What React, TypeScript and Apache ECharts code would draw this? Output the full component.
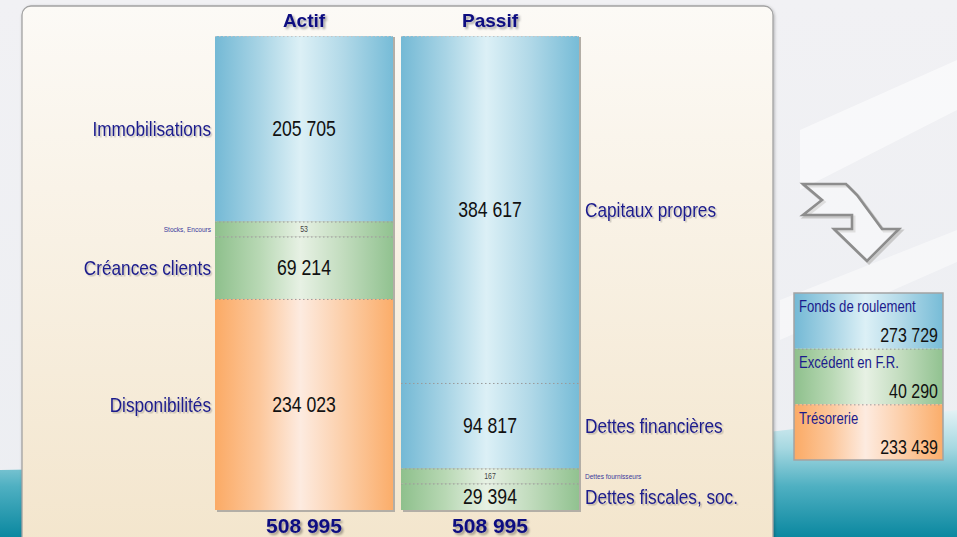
import React, { useEffect, useRef } from "react";
import * as echarts from "echarts";

// ---------- DATA ----------
const barCategories = ["Actif", "Passif"];
const actifNames = ["Immobilisations", "Stocks, Encours", "Créances clients", "Disponibilités"];
const actifValues = [205705, 53, 69214, 234023];
const passifNames = ["Capitaux propres", "Dettes financières", "Dettes fournisseurs", "Dettes fiscales, soc."];
const passifValues = [384617, 94817, 167, 29394];
const summaryNames = ["Fonds de roulement", "Excédent en F.R.", "Trésorerie"];
const summaryValues = [273729, 40290, 233439];

// ---------- STYLE ----------
const actifTones = ["blue", "green", "green", "orange"];
const passifTones = ["blue", "blue", "green", "green"];
const summaryTones = ["blue", "green", "orange"];
const MIN_SHARE = 0.0316; // minimum visual share given to tiny segments
const BAR_W = 178;
const NARROW_SCALE = 0.82;
const ARIAL = "'Liberation Sans', Arial, Helvetica, sans-serif";
const NAVY = "#1b1b8c";

const TONES: Record<string, string[]> = {
  blue: ["#74b9d5", "#a8d4e5", "#dcf0f6", "#b2d9e8", "#77bcd7"],
  green: ["#8ec08c", "#b8d8b4", "#e7f1e4", "#c2dcbe", "#91c290"],
  orange: ["#fbaa65", "#fcc79b", "#fdebe0", "#fccfaa", "#fbad6a"],
};
const grad = (tone: string) => ({
  type: "linear",
  x: 0,
  y: 0,
  x2: 1,
  y2: 0,
  colorStops: TONES[tone].map((c, i) => ({ offset: [0, 0.25, 0.48, 0.72, 1][i], color: c })),
});

const fmt = (v: number) => String(v).replace(/\B(?=(\d{3})+(?!\d))/g, " ");
const sum = (a: number[]) => a.reduce((s, v) => s + v, 0);

// narrow text (Arial Narrow look) built from Arial metrics
const narrowText = (text: string, x: number, y: number, align: string, fontSize: number, fill: string, shadow = false) => ({
  type: "text",
  x,
  y,
  scaleX: NARROW_SCALE,
  style: {
    text, x: 0, y: 0, align, verticalAlign: "middle",
    fontFamily: ARIAL, fontSize, fill,
    ...(shadow
      ? { textShadowColor: "rgba(0,0,0,0.2)", textShadowBlur: 1.5, textShadowOffsetX: 1.5, textShadowOffsetY: 1.5 }
      : {}),
  },
});

type Seg = { cat: number; start: number; end: number; value: number; name: string; tone: string; small: boolean; first: boolean };

function layout(cat: number, names: string[], values: number[], tones: string[]): Seg[] {
  const total = sum(values);
  const min = MIN_SHARE * total;
  const small = values.map((v) => v < min);
  const smallSum = small.filter(Boolean).length * min;
  const bigSum = sum(values.filter((_, i) => !small[i]));
  const k = (total - smallSum) / bigSum;
  let acc = 0;
  return values.map((v, i) => {
    const d = small[i] ? min : v * k;
    const seg = { cat, start: acc, end: acc + d, value: v, name: names[i], tone: tones[i], small: small[i], first: i === 0 };
    acc += d;
    return seg;
  });
}

const segs: Seg[] = [
  ...layout(0, actifNames, actifValues, actifTones),
  ...layout(1, passifNames, passifValues, passifTones),
];
const totals = [sum(actifValues), sum(passifValues)];
const yMax = Math.max(...totals);

const arrowPts = [
  [803, 184], [846, 184], [857, 195], [882, 229], [899, 229], [867, 261],
  [834, 229], [852, 229], [852, 215], [803, 215], [822, 200],
];

export default function App() {
  const ref = useRef<HTMLDivElement>(null);
  useEffect(() => {
    const chart = echarts.init(ref.current!, null, { renderer: "svg" });
    const titleLabel = {
      color: "#0b0b80", fontFamily: ARIAL, fontWeight: "bold",
      textShadowColor: "rgba(0,0,0,0.35)", textShadowBlur: 2, textShadowOffsetX: 2, textShadowOffsetY: 2,
    };
    const option: any = {
      animation: false,
      graphic: [
        {
          type: "rect", z: -20, silent: true,
          shape: { x: 0, y: 0, width: 957, height: 537 },
          style: { fill: { type: "linear", x: 0, y: 0, x2: 0, y2: 1, colorStops: [
            { offset: 0, color: "#f1f1f4" }, { offset: 1, color: "#eceef2" }] } },
        },
        {
          type: "polygon", z: -19, silent: true,
          shape: { points: [[800, 130], [957, 60], [957, 110], [800, 190]] },
          style: { fill: "rgba(255,255,255,0.55)" },
        },
        {
          type: "polygon", z: -19, silent: true,
          shape: { points: [[780, 300], [957, 230], [957, 262], [780, 340]] },
          style: { fill: "rgba(255,255,255,0.45)" },
        },
        {
          type: "polygon", z: -18, silent: true,
          shape: { points: [[0, 470], [300, 465], [700, 440], [957, 410], [957, 537], [0, 537]] },
          style: { fill: { type: "linear", x: 0, y: 0, x2: 0, y2: 1, colorStops: [
            { offset: 0, color: "#e4f2f5" }, { offset: 0.3, color: "#a6d8e1" },
            { offset: 0.6, color: "#4fb0c2" }, { offset: 1, color: "#0b88a0" }] } },
        },
        {
          type: "rect", z: -10, silent: true,
          shape: { x: 22, y: 6, width: 751, height: 548, r: 9 },
          style: {
            fill: { type: "linear", x: 0, y: 0, x2: 0, y2: 1, colorStops: [
              { offset: 0, color: "#fcfaf6" }, { offset: 1, color: "#f3e5cc" }] },
            stroke: "#a2a2a2", lineWidth: 1.3,
            shadowColor: "rgba(0,0,0,0.25)", shadowBlur: 3, shadowOffsetX: 1, shadowOffsetY: 1,
          },
        },
        {
          type: "polygon", z: -5, silent: true, x: 2, y: 2,
          shape: { points: arrowPts },
          style: { fill: "none", stroke: "#c9c9c9", lineWidth: 3, lineJoin: "miter" },
        },
        {
          type: "polygon", z: -4, silent: true,
          shape: { points: arrowPts },
          style: { fill: "rgba(255,255,255,0.4)", stroke: "#8d8d8d", lineWidth: 2.6, lineJoin: "miter" },
        },
      ],
      grid: [
        { left: 211, width: 372, top: 36, height: 474 },
        { left: 794, width: 149, top: 293, height: 167 },
      ],
      xAxis: [
        {
          type: "category", gridIndex: 0, position: "top", data: barCategories,
          axisLine: { show: false }, axisTick: { show: false }, splitLine: { show: false },
          axisLabel: { ...titleLabel, margin: 6, fontSize: 19 },
        },
        {
          type: "category", gridIndex: 0, position: "bottom", data: totals.map(fmt),
          axisLine: { show: false }, axisTick: { show: false }, splitLine: { show: false },
          axisLabel: { ...titleLabel, margin: 5, fontSize: 21 },
        },
        { type: "value", gridIndex: 1, min: 0, max: 1, show: false },
      ],
      yAxis: [
        { type: "value", gridIndex: 0, min: 0, max: yMax, inverse: true, show: false },
        { type: "category", gridIndex: 1, data: summaryNames, inverse: true, show: false },
      ],
      series: [
        {
          type: "custom", name: "shadow", xAxisIndex: 0, yAxisIndex: 0, z: 1,
          data: totals.map((t, i) => [i, t]),
          renderItem: (params: any, api: any) => {
            const c0 = api.coord([api.value(0), 0]);
            const c1 = api.coord([api.value(0), api.value(1)]);
            return {
              type: "rect",
              shape: { x: c0[0] - BAR_W / 2 + 2, y: c0[1] + 1, width: BAR_W, height: c1[1] - c0[1] + 1 },
              style: { fill: "#b3aea6" },
            };
          },
        },
        {
          type: "custom", name: "bilan", xAxisIndex: 0, yAxisIndex: 0, z: 2,
          data: segs.map((s) => [s.cat, s.start, s.end, s.value]),
          renderItem: (params: any, api: any) => {
            const s = segs[params.dataIndex];
            const c0 = api.coord([api.value(0), api.value(1)]);
            const c1 = api.coord([api.value(0), api.value(2)]);
            const x = c0[0] - BAR_W / 2;
            const y = c0[1];
            const h = c1[1] - c0[1];
            const cy = y + h / 2;
            const left = s.cat === 0;
            const children: any[] = [
              { type: "rect", shape: { x, y, width: BAR_W, height: h }, style: { fill: grad(s.tone) } },
              {
                type: "line",
                shape: { x1: x, y1: y + 0.5, x2: x + BAR_W, y2: y + 0.5 },
                style: { stroke: s.first ? "#c4c4c4" : "#9a9a9a", lineWidth: 1, lineDash: [1.5, 2.5] },
              },
              narrowText(fmt(api.value(3)), c0[0], cy, "center", s.small ? 8.5 : 21.5, s.small ? "#444" : "#111"),
              narrowText(
                s.name,
                left ? x - 4 : x + BAR_W + 6,
                cy + (s.small ? 0 : 0.5),
                left ? "right" : "left",
                s.small ? 8 : 21,
                s.small ? "#3a3a9c" : NAVY,
                !s.small
              ),
            ];
            return { type: "group", children };
          },
        },
        {
          type: "custom", name: "synthese", xAxisIndex: 2, yAxisIndex: 1, z: 2,
          data: summaryValues.map((v, i) => [0, i, v]),
          renderItem: (params: any, api: any) => {
            const i = params.dataIndex;
            const c = api.coord([0, api.value(1)]);
            const sz = api.size([1, 1]);
            const w = sz[0];
            const h = sz[1];
            const x = c[0];
            const y = c[1] - h / 2;
            const children: any[] = [
              { type: "rect", shape: { x, y, width: w, height: h }, style: { fill: grad(summaryTones[i]) } },
              narrowText(summaryNames[i], x + 5, y + 14, "left", 16, NAVY),
              narrowText(fmt(api.value(2)), x + w - 5, y + h - 13, "right", 19.5, "#111"),
            ];
            if (i > 0) {
              children.push({
                type: "line",
                shape: { x1: x, y1: y + 0.5, x2: x + w, y2: y + 0.5 },
                style: { stroke: "#9a9a9a", lineWidth: 1, lineDash: [1.5, 2.5] },
              });
            }
            return { type: "group", children };
          },
        },
        {
          type: "custom", name: "cadre", xAxisIndex: 2, yAxisIndex: 1, z: 3,
          data: [[0, 0, summaryValues.length - 1]],
          renderItem: (params: any, api: any) => {
            const a = api.coord([0, api.value(1)]);
            const b = api.coord([1, api.value(2)]);
            const h = api.size([1, 1])[1];
            return {
              type: "rect",
              shape: { x: a[0], y: a[1] - h / 2, width: b[0] - a[0], height: b[1] - a[1] + h },
              style: { fill: "none", stroke: "#a3a3a3", lineWidth: 1.5 },
            };
          },
        },
      ],
    };
    chart.setOption(option);
    return () => chart.dispose();
  }, []);
  return <div ref={ref} style={{ position: "absolute", left: 0, top: 0, width: 957, height: 537 }} />;
}
